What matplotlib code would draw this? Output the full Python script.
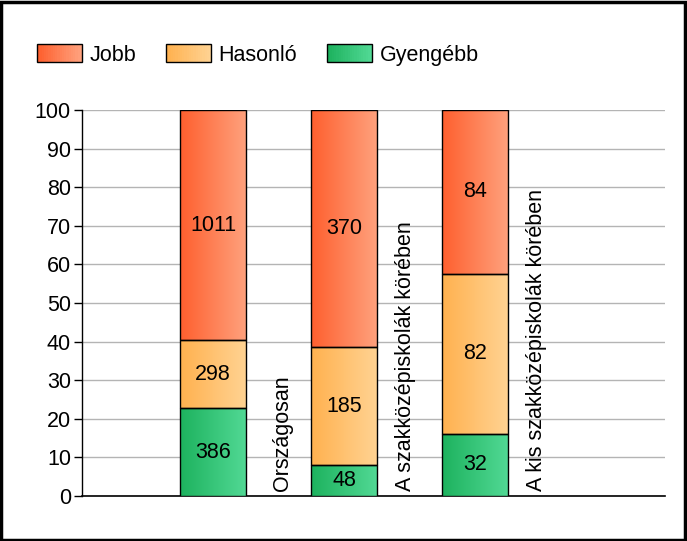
import numpy as np
import matplotlib
matplotlib.use("Agg")
import matplotlib.pyplot as plt
from matplotlib.colors import LinearSegmentedColormap
from matplotlib.patches import Rectangle
from matplotlib.legend_handler import HandlerBase

plt.rcParams['font.family'] = ['Liberation Sans', 'DejaVu Sans']

categories = ["Országosan", "A szakközépiskolák körében", "A kis szakközépiskolák körében"]
series_names = ["Gyengébb", "Hasonló", "Jobb"]
counts_gyengebb = [386, 48, 32]
counts_hasonlo = [298, 185, 82]
counts_jobb = [1011, 370, 84]
yticks = [0, 10, 20, 30, 40, 50, 60, 70, 80, 90, 100]

grad_colors = {
    "Jobb": ("#fe5f2e", "#ffa27e"),
    "Hasonló": ("#ffb14f", "#ffd393"),
    "Gyengébb": ("#1db25e", "#52d995"),
}

FS = 15.5

counts = np.array([counts_gyengebb, counts_hasonlo, counts_jobb], dtype=float)
totals = counts.sum(axis=0)
pct = counts / totals * 100

fig = plt.figure(figsize=(6.87, 5.41), dpi=100)
ax = fig.add_axes([82/687, 45/541, (665-82)/687, (496-110)/541])

x = np.arange(len(categories))
width = 0.504
bottom = np.zeros(len(categories))
grad = np.linspace(0, 1, 256).reshape(1, -1)
for name, vals, cnts in zip(series_names, pct, counts):
    bars = ax.bar(x, vals, width, bottom=bottom, color='none', edgecolor='black',
                  linewidth=1.0, zorder=4)
    cmap = LinearSegmentedColormap.from_list(name, grad_colors[name])
    for b, c in zip(bars, cnts):
        x0, y0 = b.get_x(), b.get_y()
        w, h = b.get_width(), b.get_height()
        ax.imshow(grad, cmap=cmap, extent=(x0, x0 + w, y0, y0 + h),
                  aspect='auto', zorder=3, interpolation='bilinear')
        ax.text(x0 + w / 2, y0 + h / 2, f"{int(c)}", ha='center', va='center',
                fontsize=FS, color='black', zorder=5)
    bottom += vals

label_x = [0.53, 0.47, 0.47]
for xi, lx, cat in zip(x, label_x, categories):
    ax.text(xi + lx, 1.2, cat, rotation=90, ha='center', va='bottom',
            fontsize=FS, color='black', zorder=5)

ax.set_xlim(-1.0, 3.45)
ax.set_ylim(0, 100)
ax.set_yticks(yticks)
ax.set_yticklabels([str(t) for t in yticks], fontsize=FS)
ax.set_xticks([])
ax.yaxis.grid(True, color='#b4b4b4', linewidth=1.0, zorder=0)
ax.set_axisbelow(True)
for s in ['top', 'right']:
    ax.spines[s].set_visible(False)
ax.spines['left'].set_linewidth(1.0)
ax.spines['bottom'].set_linewidth(1.2)
ax.tick_params(axis='y', length=6, width=1.0, pad=2)


class GradHandler(HandlerBase):
    def __init__(self, cols):
        super().__init__()
        self.cols = cols

    def create_artists(self, legend, orig_handle, xdescent, ydescent, width, height, fontsize, trans):
        arts = []
        n = 20
        c0 = np.array(matplotlib.colors.to_rgb(self.cols[0]))
        c1 = np.array(matplotlib.colors.to_rgb(self.cols[1]))
        for i in range(n):
            col = c0 + (c1 - c0) * i / (n - 1)
            r = Rectangle((-xdescent + width * i / n, -ydescent), width / n + 0.3, height,
                          facecolor=col, edgecolor='none', transform=trans)
            arts.append(r)
        arts.append(Rectangle((-xdescent, -ydescent), width, height, facecolor='none',
                              edgecolor='black', linewidth=1.0, transform=trans))
        return arts


leg_order = ["Jobb", "Hasonló", "Gyengébb"]
handles = [Rectangle((0, 0), 1, 1) for _ in leg_order]
handler_map = {h: GradHandler(grad_colors[n]) for h, n in zip(handles, leg_order)}
fig.legend(handles, leg_order, handler_map=handler_map, loc='upper left',
           bbox_to_anchor=(37/687, 1 - 44/541), ncol=3, frameon=False,
           fontsize=FS, handlelength=2.1, handleheight=0.93, columnspacing=1.4,
           handletextpad=0.33, borderpad=0, borderaxespad=0)

fig.patches.append(Rectangle((0.002, 0.002), 0.995, 0.995, transform=fig.transFigure,
                             fill=False, edgecolor='black', linewidth=2.5))

fig.savefig("out.png", dpi=100)
